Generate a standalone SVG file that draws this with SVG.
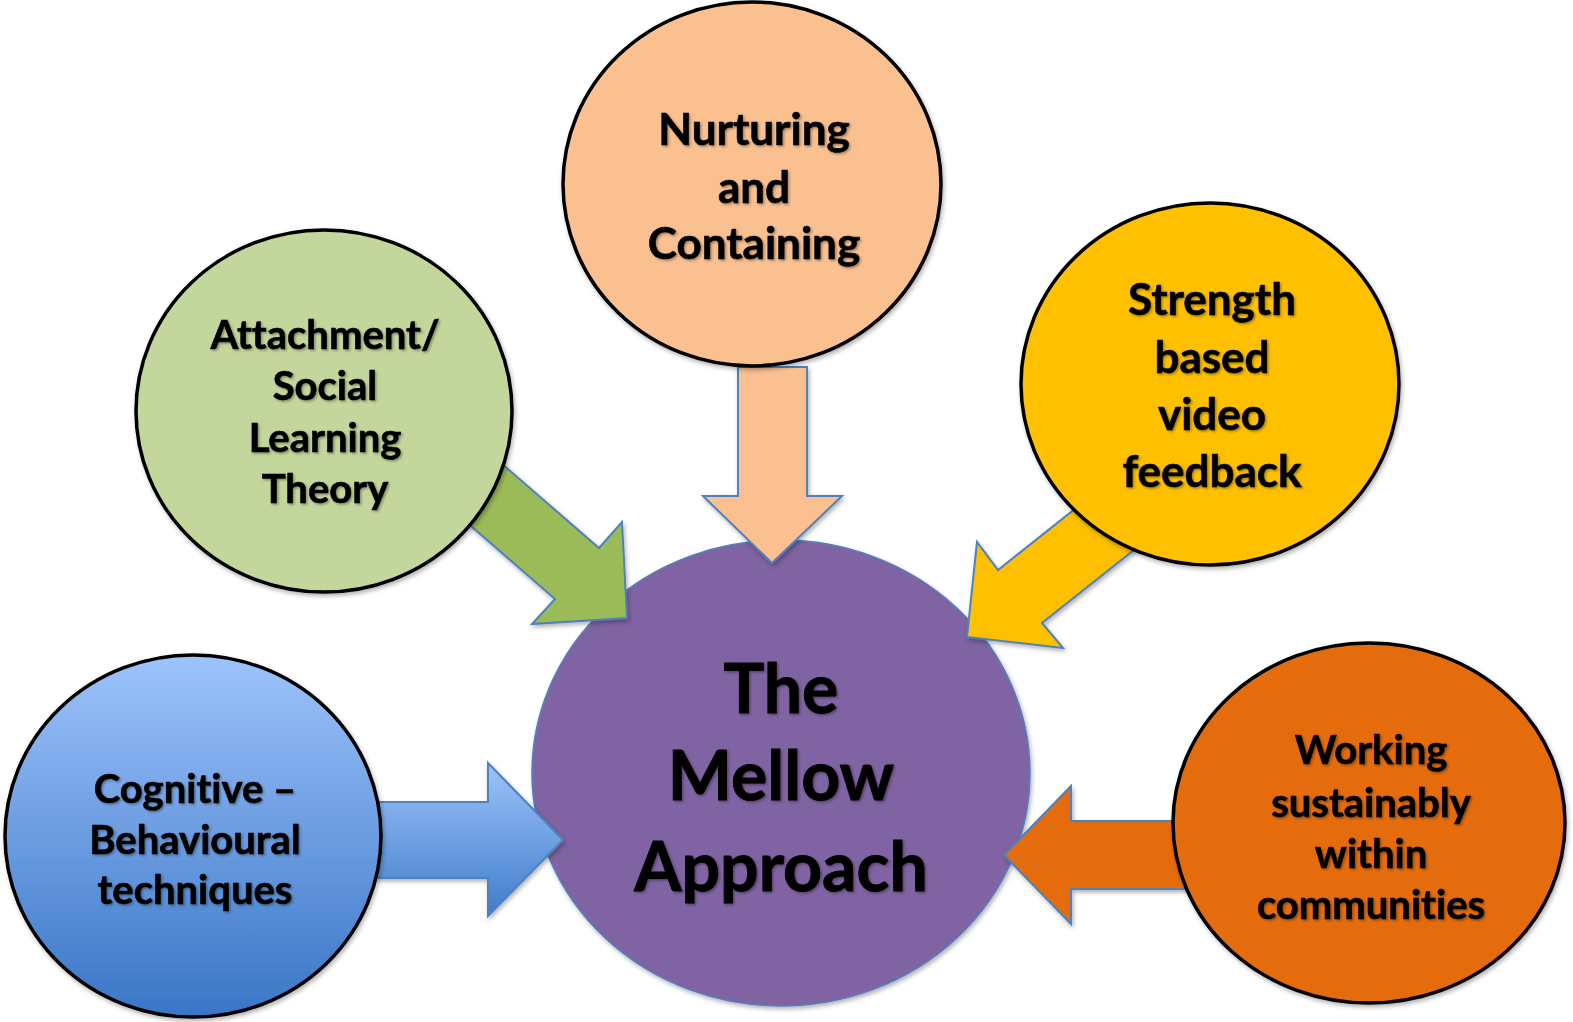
<svg xmlns="http://www.w3.org/2000/svg" width="1573" height="1022" viewBox="0 0 1573 1022">
  <defs>
    <linearGradient id="blueCircle" x1="0" y1="0" x2="0" y2="1">
      <stop offset="0" stop-color="#9DC3FB"/>
      <stop offset="1" stop-color="#3976C6"/>
    </linearGradient>
    <linearGradient id="blueArrow" x1="0" y1="0" x2="0" y2="1">
      <stop offset="0" stop-color="#9DC3FA"/>
      <stop offset="1" stop-color="#3F7DCB"/>
    </linearGradient>
    <filter id="shapeShadow" x="-10%" y="-10%" width="120%" height="120%">
      <feDropShadow dx="1.5" dy="2.5" stdDeviation="2" flood-color="#000" flood-opacity="0.3"/>
    </filter>
    <filter id="textShadow" x="-10%" y="-10%" width="120%" height="130%">
      <feDropShadow dx="1.5" dy="1.5" stdDeviation="1" flood-color="#000" flood-opacity="0.35"/>
    </filter>
  </defs>
  <style>
    .outer { stroke: #000; stroke-width: 3.5; filter: url(#shapeShadow); }
    .hub { fill: #8064A2; stroke: #4F81BD; stroke-width: 1.5; filter: url(#shapeShadow); }
    .arrow { stroke: #4F81BD; stroke-width: 2; stroke-linejoin: miter; filter: url(#shapeShadow); }
    text { font-family: Lato, "Open Sans", "Liberation Sans", sans-serif; font-weight: bold; fill: #000; stroke: #000; stroke-width: 0.6; text-anchor: middle; font-variant-ligatures: none; filter: url(#textShadow); }
    .t44 { font-size: 44px; }
    .t40 { font-size: 40px; }
    .t68 { font-size: 68px; stroke-width: 0.9; }
  </style>

  <!-- central hub -->
  <g id="mellow-approach">
    <ellipse class="hub" cx="781" cy="773" rx="249" ry="233"/>
    <text class="t68" x="781" y="713">The</text>
    <text class="t68" x="781" y="800">Mellow</text>
    <text class="t68" x="781" y="891">Approach</text>
  </g>

  <!-- block arrows pointing into the hub -->
  <g id="connectors">
    <polygon class="arrow" fill="#FAC090" points="738,367 807,367 807,496 842,496 772,563 703,496 738,496"/>
    <polygon class="arrow" fill="#9BBB59" points="478,443 599,548 622,522 627,618 532,624 555,599 434,494"/>
    <polygon class="arrow" fill="#FFC000" points="1139,458 998,570 977,542 967,637 1063,648 1042,623 1183,511"/>
    <polygon class="arrow" fill="url(#blueArrow)" points="340,802 488,802 488,763 563,840 488,916 488,878 340,878"/>
    <polygon class="arrow" fill="#E46C0A" points="1220,821 1071,821 1071,786 1004,855 1071,924 1071,889 1220,889"/>
  </g>

  <g id="nurturing">
    <ellipse class="outer" fill="#FAC090" cx="752" cy="184" rx="189" ry="182"/>
    <text class="t44" x="754" y="145">Nurturing</text>
    <text class="t44" x="754" y="203">and</text>
    <text class="t44" x="754" y="259">Containing</text>
  </g>

  <g id="attachment">
    <ellipse class="outer" fill="#C3D69B" cx="324" cy="411" rx="188" ry="181"/>
    <text class="t40" x="325" y="349">Attachment/</text>
    <text class="t40" x="325" y="400">Social</text>
    <text class="t40" x="325" y="452">Learning</text>
    <text class="t40" x="325" y="503">Theory</text>
  </g>

  <g id="strength">
    <ellipse class="outer" fill="#FFC000" cx="1210" cy="384" rx="189" ry="181"/>
    <text class="t44" x="1212" y="315">Strength</text>
    <text class="t44" x="1212" y="373">based</text>
    <text class="t44" x="1212" y="430">video</text>
    <text class="t44" x="1212" y="487">feedback</text>
  </g>

  <g id="cognitive">
    <ellipse class="outer" fill="url(#blueCircle)" cx="193" cy="836" rx="188" ry="181"/>
    <text class="t40" x="195" y="803">Cognitive –</text>
    <text class="t40" x="195" y="854">Behavioural</text>
    <text class="t40" x="195" y="904">techniques</text>
  </g>

  <g id="working">
    <ellipse class="outer" fill="#E46C0A" cx="1369" cy="823" rx="196" ry="180"/>
    <text class="t40" x="1371" y="764">Working</text>
    <text class="t40" x="1371" y="817">sustainably</text>
    <text class="t40" x="1371" y="868">within</text>
    <text class="t40" x="1371" y="919">communities</text>
  </g>
</svg>
